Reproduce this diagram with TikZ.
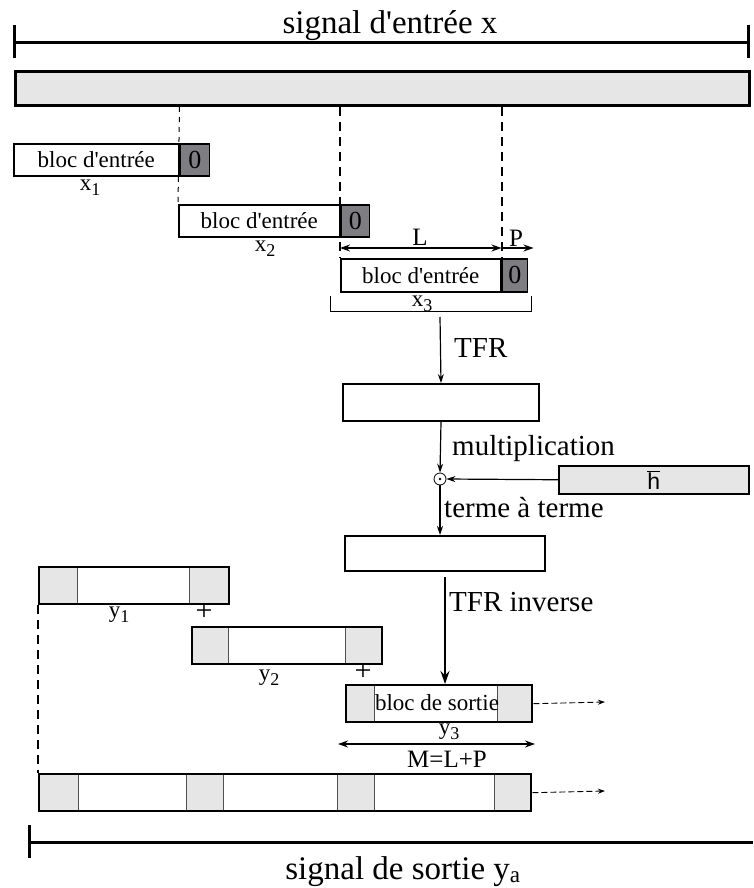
\documentclass[tikz,border=0pt]{standalone}
\usepackage{fontspec}
\setmainfont{Liberation Serif}
\setsansfont{Liberation Sans}
\usetikzlibrary{calc, positioning}
\usetikzlibrary{arrows.meta}

\definecolor{barfill}{RGB}{230,230,230}
\definecolor{zerofill}{RGB}{125,125,130}
\definecolor{sqline}{RGB}{80,80,80}

\newcommand{\titlesize}{\fontsize{33}{36}\selectfont}
\newcommand{\labsize}{\fontsize{29}{32}\selectfont}
\newcommand{\blocsize}{\fontsize{23}{26}\selectfont}
\newcommand{\apo}{\textquotesingle}
\newcommand{\idx}[1]{\raisebox{-5pt}{\fontsize{18}{20}\selectfont #1}}

\tikzset{
  box/.style={draw, line width=1.5pt, fill=white, rectangle, inner sep=0pt,
    anchor=north west, font=\blocsize},
  zerobox/.style={box, fill=zerofill, font=\fontsize{26}{28}\selectfont},
  outbox/.style={draw, line width=2.4pt, rectangle, inner sep=0pt,
    anchor=north west, minimum height=37pt},
  sq/.style={draw=sqline, line width=0.8pt, fill=barfill},
  lab/.style={font=\blocsize, inner sep=0pt},
  plus/.style={font=\fontsize{30}{32}\selectfont, inner sep=0pt},
  arr/.style={line width=1.2pt, -{Stealth[length=9pt, width=6pt]}},
  bigarr/.style={line width=1.8pt, -{Stealth[length=13pt, width=9pt]}},
  dimarr/.style={line width=1.3pt, {Stealth[length=10pt, width=7pt]}-{Stealth[length=10pt, width=7pt]}},
  outarr/.style={line width=0.9pt, dash pattern=on 6pt off 3pt, -{Stealth[length=7pt, width=5pt]}},
  thindash/.style={line width=1pt, dash pattern=on 5pt off 5pt},
  thickdash/.style={line width=2pt, dash pattern=on 9pt off 6pt},
  brace/.style={line width=3pt}
}

\begin{document}
\begin{tikzpicture}[x=1pt, y=-1pt]
\useasboundingbox (0,0) rectangle (753,888);

% signal d'entree
\coordinate (inL) at (14,43);
\coordinate (inR) at (748,43);
\draw[brace] (inL) -- (inR);
\draw[brace] ($(inL)+(0,-18)$) -- ($(inL)+(0,15)$);
\draw[brace] ($(inR)+(0,-18)$) -- ($(inR)+(0,15)$);
\node[font=\titlesize, anchor=base] (tin) at (390,34) {signal d\apo entrée x};
\node[box, fill=barfill, line width=3pt, minimum width=734pt, minimum height=34pt] (xbar) at (14,70) {};

% blocs d'entree
\node[box, minimum width=165pt, minimum height=32pt] (b1) at (13,143) {bloc d\apo entrée};
\node[zerobox, minimum width=29pt, minimum height=32pt] (z1) at (b1.north east) {0};
\node[lab] (x1) at (90,188) {x\idx{1}};

\node[box, minimum width=161pt, minimum height=32pt] (b2) at (178,204) {bloc d\apo entrée};
\node[zerobox, minimum width=28pt, minimum height=32pt] (z2) at (b2.north east) {0};
\node[lab] (x2) at (265,249) {x\idx{2}};

\node[box, minimum width=160pt, minimum height=33pt] (b3) at (340,258) {bloc d\apo entrée};
\node[zerobox, minimum width=25pt, minimum height=33pt] (z3) at (b3.north east) {0};
\node[lab] (x3) at (422,304) {x\idx{3}};

\draw[thindash] (xbar.south -| b1.north east) -- (b2.north west);
\draw[thickdash] (xbar.south -| b3.north west) -- (b3.north west);
\draw[thickdash] (xbar.south -| b3.north east) -- (b3.north east);

% L et P
\coordinate (Ls) at ($(b3.north west)+(0,-10)$);
\coordinate (Le) at ($(b3.north east)+(0,-10)$);
\coordinate (Pe) at ($(Le)+(32,0)$);
\draw[dimarr] (Ls) -- (Le);
\draw[line width=1.3pt, -{Stealth[length=10pt, width=7pt]}] (Le) -- (Pe);
\node[lab, font=\fontsize{25}{27}\selectfont] (Ltxt) at (420,237) {L};
\node[lab, font=\fontsize{25}{27}\selectfont] (Ptxt) at (516,238) {P};
\draw[line width=0.8pt] (330,296) -- (330,311) -- (531,311) -- (531,296);

% TFR
\coordinate (tfrtop) at (440,317);
\node[box, line width=2pt, minimum width=196pt, minimum height=37pt] (fft) at (342,383) {};
\draw[arr] (tfrtop) -- (fft.north);
\node[font=\labsize, anchor=west, inner sep=0pt] (tfr) at (454,348) {TFR};

% multiplication terme a terme
\node[draw, circle, line width=0.8pt, minimum size=12pt, inner sep=0pt] (mul) at (440,479) {};
\fill (mul.center) circle (1.3pt);
\draw[arr] (fft.south) -- (mul.north);
\node[font=\labsize, anchor=west, inner sep=0pt] (multxt) at (452,449) {multiplication};
\node[box, fill=barfill, minimum width=190pt, minimum height=28pt] (hbox) at (558,465)
  {\sffamily$\overline{\mbox{h}}$};
\draw[arr] (hbox.west) -- (mul.east);

\node[box, line width=2pt, minimum width=200pt, minimum height=35pt] (ifft) at (344,535) {};
\draw[arr] (mul.south) -- (mul.south |- ifft.north);
\node[font=\labsize, anchor=west, inner sep=0pt] (termtxt) at (444,508) {terme à terme};

% blocs de sortie
\foreach \a/\b in {38/77, 189/228}
  \draw[sq] (\a,566) rectangle (\b,603);
\node[outbox, minimum width=190pt] (y1box) at (38,566) {};
\node[lab] (y1) at (119,615) {y\idx{1}};
\node[plus] (plus1) at (204,612) {+};

\foreach \a/\b in {191/228, 345/381}
  \draw[sq] (\a,626) rectangle (\b,663);
\node[outbox, minimum width=190pt] (y2box) at (191,626) {};
\node[lab] (y2) at (269,678) {y\idx{2}};
\node[plus] (plus2) at (363,672) {+};

\foreach \a/\b in {345/374, 497/531}
  \draw[sq] (\a,684) rectangle (\b,721);
\node[outbox, minimum width=186pt] (y3box) at (345,684) {};
\node[lab] (sortie) at (437,703) {bloc de sortie};
\node[lab] (y3) at (449,732) {y\idx{3}};

\draw[bigarr, shorten <=5pt] (ifft.south) -- (ifft.south |- y3box.north);
\node[font=\labsize, anchor=west, inner sep=0pt] (inv) at (449,602) {TFR inverse};

\coordinate (Ms) at (338,744);
\coordinate (Me) at (535,744);
\draw[dimarr] (Ms) -- (Me);
\node[lab, font=\fontsize{25}{27}\selectfont] (Mtxt) at (447,759) {M=L+P};

\coordinate (y3out) at (605,702);
\draw[outarr] (y3box.east) -- (y3out);

% signal de sortie
\foreach \a/\b in {38/78, 186/223, 337/374, 494/530}
  \draw[sq] (\a,773) rectangle (\b,810);
\node[outbox, minimum width=492pt] (yabox) at (38,773) {};
\coordinate (yaout) at (605,791);
\draw[outarr] (yabox.east) -- (yaout);
\draw[thickdash] (y1box.south west) -- (yabox.north west);

\coordinate (outL) at (29,842);
\coordinate (outR) at (753,842);
\draw[brace] (outL) -- (outR);
\draw[brace] ($(outL)+(0,-17)$) -- ($(outL)+(0,16)$);
\node[font=\titlesize, anchor=base] (tout) at (403,879) {signal de sortie y\textsubscript{a}};
\end{tikzpicture}
\end{document}
